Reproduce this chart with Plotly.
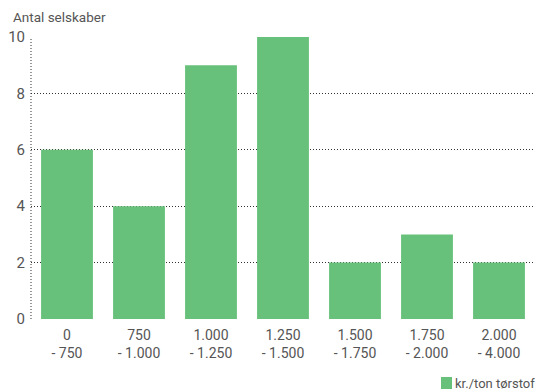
import plotly.graph_objects as go

categories = ["0<br>- 750", "750<br>- 1.000", "1.000<br>- 1.250", "1.250<br>- 1.500",
              "1.500<br>- 1.750", "1.750<br>- 2.000", "2.000<br>- 4.000"]
counts = [6, 4, 9, 10, 2, 3, 2]
series_name = "kr./ton tørstof"
y_title = "Antal selskaber"
y_ticks = [0, 2, 4, 6, 8, 10]

font_family = "Roboto, Liberation Sans, sans-serif"
text_color = "#555555"
bar_color = "#68C17A"
grid_color = "#333333"
dot_pattern = "1px,2px"

fig = go.Figure()
fig.add_trace(go.Bar(x=categories, y=counts, name=series_name, showlegend=False,
                     marker=dict(color=bar_color, line=dict(width=0))))

fig.update_layout(
    width=535, height=390,
    margin=dict(l=31, r=0, t=37, b=71, autoexpand=False),
    paper_bgcolor="white", plot_bgcolor="white",
    font=dict(family=font_family, size=14, color=text_color),
    bargap=0.28,
    showlegend=False,
    xaxis=dict(showgrid=False, showline=False, ticks="", ticklabelstandoff=6,
               tickfont=dict(size=14)),
    yaxis=dict(range=[0, 10], tickvals=y_ticks, showgrid=True, gridcolor=grid_color,
               griddash=dot_pattern, gridwidth=1, zeroline=False, showline=False,
               ticks="", ticklabelstandoff=5, tickfont=dict(size=15)),
    annotations=[
        dict(text=y_title, xref="paper", yref="paper", x=0, y=1,
             xshift=-20, yshift=10, xanchor="left", yanchor="bottom",
             showarrow=False, font=dict(size=13.5, color=text_color)),
        # legend label
        dict(text=series_name, xref="paper", yref="paper", x=1, y=0,
             yshift=-64, xanchor="right", yanchor="middle", xshift=2,
             showarrow=False, font=dict(size=13, color=text_color)),
    ],
    shapes=[
        dict(type="line", xref="paper", yref="paper", x0=0, x1=0, y0=0, y1=1,
             line=dict(color=grid_color, width=1, dash=dot_pattern)),
        # legend swatch
        dict(type="rect", xref="paper", yref="paper",
             x0=(441 - 31) / 504, x1=(452 - 31) / 504,
             y0=-(389 - 319) / 282, y1=-(377 - 319) / 282,
             fillcolor=bar_color, line=dict(width=0)),
    ],
)

fig.write_html("out.html")
